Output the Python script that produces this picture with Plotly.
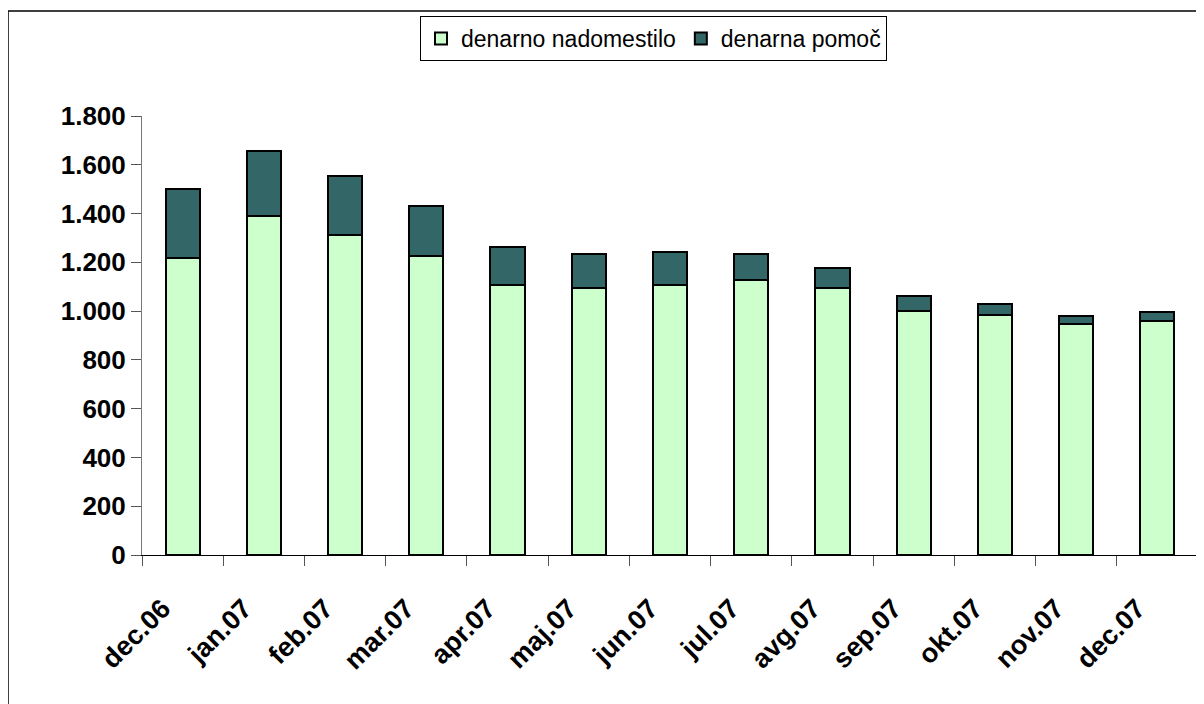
import plotly.graph_objects as go

# Monthly values
months = ['dec.06', 'jan.07', 'feb.07', 'mar.07', 'apr.07', 'maj.07', 'jun.07',
          'jul.07', 'avg.07', 'sep.07', 'okt.07', 'nov.07', 'dec.07']
nadomestilo = [1218, 1388, 1314, 1224, 1109, 1094, 1109, 1126, 1094, 1001, 986, 946, 961]
pomoc = [284, 270, 241, 205, 155, 139, 135, 107, 83, 60, 44, 33, 34]

# page body adds an 8px margin, so the figure is drawn 8px smaller
OFF = 8
W, H = 1204 - OFF, 704 - OFF
L, R, T, B = 142 - OFF, 6, 116 - OFF, 149
plot_w = W - L - R
plot_h = H - T - B


def px_x(p):
    # screen pixel column -> paper x
    return (p - OFF - L) / plot_w


def px_y(p):
    # screen pixel row -> paper y
    return (H - B - (p - OFF)) / plot_h


FONT = 'Liberation Sans, Arial, sans-serif'

fig = go.Figure()
fig.add_trace(go.Bar(
    x=months, y=nadomestilo, name='denarno nadomestilo',
    marker=dict(color='#CCFFCC', line=dict(color='black', width=2)),
))
fig.add_trace(go.Bar(
    x=months, y=pomoc, name='denarna pomoč',
    marker=dict(color='#336666', line=dict(color='black', width=2)),
))

fig.update_layout(
    width=W, height=H,
    barmode='stack',
    bargap=0.58,
    separators=',.',
    plot_bgcolor='white',
    paper_bgcolor='white',
    margin=dict(l=L, r=R, t=T, b=B, pad=0),
    font=dict(family=FONT, color='black'),
    showlegend=True,
    legend=dict(
        orientation='h',
        x=px_x(420), xanchor='left',
        y=px_y(16), yanchor='top',
        bgcolor='white',
        bordercolor='black', borderwidth=1,
        font=dict(size=23, family=FONT),
        traceorder='normal',
        itemwidth=30,
    ),
    shapes=[dict(
        type='rect', xref='paper', yref='paper',
        x0=px_x(8), x1=px_x(1215), y0=px_y(720), y1=px_y(11),
        line=dict(color='black', width=1.5), fillcolor='rgba(0,0,0,0)',
        layer='below',
    )],
)

fig.update_xaxes(
    type='category',
    tickangle=-45,
    tickson='boundaries',
    ticks='outside', ticklen=10, tickcolor='#555555', tickwidth=1,
    showline=True, linecolor='black', linewidth=1,
    tickfont=dict(size=27, family=FONT, weight='bold'),
    ticklabelshift=-20,
    ticklabelstandoff=26,
    showgrid=False,
    automargin=False,
)

fig.update_yaxes(
    range=[0, 1800], dtick=200, tick0=0,
    tickformat=',d',
    ticks='outside', ticklen=10, tickcolor='#555555', tickwidth=1,
    showline=True, linecolor='#777777', linewidth=1,
    tickfont=dict(size=26, family=FONT, weight='bold'),
    showgrid=False, zeroline=False,
    automargin=False,
)

fig.write_html('out.html')
